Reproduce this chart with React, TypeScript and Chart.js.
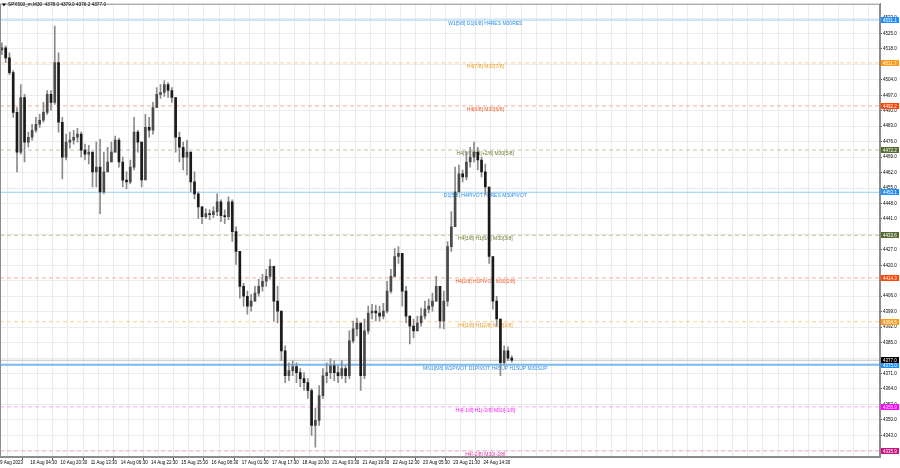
import React, { useEffect, useRef } from "react";
import { Chart, registerables } from "chart.js";
Chart.register(...registerables);

const SYMBOL_TITLE = "SPX500_m,M30  4378.0 4379.0 4376.2 4377.0";

// OHLC values (one candle per 2 hours of M30 data)
const opens = [
  4517.6, 4518.5, 4514.0, 4507.3, 4489.3, 4471.3, 4496.0, 4475.8, 4478.0, 4481.2,
  4483.9, 4485.7, 4489.3, 4497.4, 4493.8, 4511.8, 4484.8, 4469.0, 4475.8, 4476.7,
  4478.0, 4479.4, 4472.2, 4470.4, 4471.3, 4462.3, 4464.5, 4453.3, 4462.3, 4466.8,
  4471.3, 4476.7, 4466.8, 4458.6, 4457.8, 4464.5, 4480.3, 4475.8, 4458.7, 4482.5,
  4481.2, 4491.5, 4497.4, 4498.3, 4501.9, 4499.2, 4496.0, 4478.0, 4473.5, 4469.0,
  4471.3, 4457.8, 4452.4, 4446.5, 4442.0, 4443.4, 4442.9, 4444.3, 4448.8, 4442.5,
  4442.0, 4448.8, 4435.3, 4426.3, 4410.5, 4406.0, 4401.5, 4403.8, 4407.4, 4410.5,
  4412.8, 4415.0, 4419.5, 4403.8, 4399.3, 4381.3, 4370.0, 4372.3, 4374.1, 4371.4,
  4368.7, 4366.9, 4363.3, 4347.5, 4349.8, 4361.0, 4370.0, 4371.4, 4374.5, 4371.4,
  4370.0, 4373.2, 4370.0, 4385.8, 4391.2, 4393.9, 4370.0, 4390.3, 4398.4, 4399.3,
  4398.4, 4397.0, 4399.3, 4408.3, 4415.0, 4424.0, 4425.4, 4408.3, 4397.0, 4392.5,
  4390.3, 4393.9, 4397.0, 4400.2, 4401.5, 4403.8, 4410.5, 4394.8, 4403.8, 4428.5,
  4437.5, 4453.3, 4461.4, 4460.0, 4466.8, 4469.0, 4471.3, 4467.7, 4462.3, 4455.5,
  4424.0, 4403.8, 4395.7, 4375.9, 4381.3, 4378.0,
];
const highs = [
  4520.8, 4519.4, 4516.3, 4508.2, 4491.5, 4501.9, 4497.4, 4480.3, 4483.9, 4487.0,
  4488.4, 4493.8, 4499.2, 4499.2, 4528.4, 4516.3, 4487.0, 4479.4, 4480.3, 4481.2,
  4482.1, 4480.3, 4474.9, 4474.4, 4471.3, 4475.8, 4477.1, 4471.3, 4473.5, 4475.8,
  4478.5, 4477.6, 4469.0, 4462.3, 4467.7, 4487.0, 4481.2, 4475.8, 4488.4, 4487.0,
  4493.8, 4500.5, 4501.9, 4503.7, 4502.8, 4500.5, 4496.0, 4480.3, 4475.8, 4476.7,
  4464.5, 4462.3, 4453.3, 4446.5, 4445.6, 4445.2, 4446.5, 4452.4, 4449.7, 4445.2,
  4451.0, 4449.7, 4437.5, 4426.3, 4411.9, 4408.3, 4406.9, 4410.5, 4413.7, 4415.9,
  4418.2, 4422.7, 4419.5, 4410.5, 4399.3, 4383.5, 4375.9, 4376.8, 4375.9, 4373.2,
  4371.4, 4368.7, 4364.2, 4355.2, 4365.5, 4373.2, 4375.9, 4377.7, 4376.8, 4374.5,
  4376.8, 4374.5, 4390.3, 4394.8, 4396.1, 4393.9, 4395.7, 4401.5, 4402.4, 4402.0,
  4401.5, 4402.8, 4412.8, 4418.2, 4427.6, 4428.5, 4424.0, 4410.5, 4397.0, 4395.7,
  4397.0, 4400.6, 4403.8, 4404.7, 4407.4, 4415.0, 4410.5, 4408.3, 4430.8, 4444.3,
  4464.5, 4465.4, 4463.2, 4471.3, 4473.5, 4475.8, 4473.5, 4469.0, 4465.9, 4455.5,
  4424.0, 4406.0, 4395.7, 4383.5, 4383.1, 4379.0,
];
const lows = [
  4515.4, 4511.8, 4506.4, 4487.0, 4462.3, 4470.4, 4466.8, 4473.5, 4476.7, 4480.3,
  4482.5, 4484.8, 4488.4, 4490.2, 4492.9, 4480.3, 4459.1, 4467.7, 4473.1, 4474.9,
  4475.8, 4469.0, 4467.7, 4465.9, 4455.5, 4455.5, 4443.4, 4452.4, 4462.3, 4466.8,
  4471.3, 4464.5, 4455.5, 4454.6, 4456.9, 4463.2, 4471.3, 4455.5, 4458.7, 4478.0,
  4479.4, 4491.5, 4495.6, 4496.5, 4496.0, 4493.8, 4471.3, 4466.8, 4463.2, 4460.9,
  4453.3, 4450.1, 4441.1, 4438.9, 4441.1, 4440.7, 4441.6, 4442.5, 4439.8, 4438.9,
  4440.7, 4430.8, 4420.4, 4405.1, 4401.5, 4397.9, 4399.3, 4403.8, 4406.0, 4408.3,
  4410.5, 4413.7, 4394.8, 4393.9, 4376.8, 4366.9, 4367.8, 4370.0, 4366.9, 4365.1,
  4363.3, 4359.7, 4343.0, 4337.6, 4347.5, 4359.7, 4366.9, 4368.7, 4367.8, 4366.9,
  4368.7, 4366.9, 4368.7, 4384.9, 4388.0, 4363.3, 4368.7, 4388.9, 4395.7, 4394.8,
  4394.8, 4395.7, 4398.4, 4407.4, 4415.0, 4420.9, 4401.5, 4393.9, 4384.4, 4387.1,
  4390.3, 4392.5, 4395.7, 4398.4, 4399.3, 4403.8, 4391.6, 4391.2, 4401.5, 4426.3,
  4437.5, 4457.8, 4457.8, 4458.7, 4464.5, 4466.8, 4463.2, 4460.0, 4452.4, 4420.9,
  4400.2, 4392.5, 4370.0, 4374.9, 4376.8, 4376.2,
];
const closes = [
  4518.5, 4514.0, 4507.3, 4489.3, 4471.3, 4496.0, 4475.8, 4478.0, 4481.2, 4483.9,
  4485.7, 4489.3, 4497.4, 4493.8, 4511.8, 4484.8, 4469.0, 4475.8, 4476.7, 4478.0,
  4479.4, 4472.2, 4470.4, 4471.3, 4462.3, 4464.5, 4453.3, 4462.3, 4466.8, 4471.3,
  4476.7, 4466.8, 4458.6, 4457.8, 4464.5, 4480.3, 4475.8, 4458.7, 4482.5, 4481.2,
  4491.5, 4497.4, 4498.3, 4501.9, 4499.2, 4496.0, 4478.0, 4473.5, 4469.0, 4471.3,
  4457.8, 4452.4, 4446.5, 4442.0, 4443.4, 4442.9, 4444.3, 4448.8, 4442.5, 4442.0,
  4448.8, 4435.3, 4426.3, 4410.5, 4406.0, 4401.5, 4403.8, 4407.4, 4410.5, 4412.8,
  4415.0, 4419.5, 4403.8, 4399.3, 4381.3, 4370.0, 4372.3, 4374.1, 4371.4, 4368.7,
  4366.9, 4363.3, 4347.5, 4349.8, 4361.0, 4370.0, 4371.4, 4374.5, 4371.4, 4370.0,
  4373.2, 4370.0, 4385.8, 4391.2, 4393.9, 4370.0, 4390.3, 4398.4, 4399.3, 4398.4,
  4397.0, 4399.3, 4408.3, 4415.0, 4424.0, 4425.4, 4408.3, 4397.0, 4392.5, 4390.3,
  4393.9, 4397.0, 4400.2, 4401.5, 4403.8, 4410.5, 4394.8, 4403.8, 4428.5, 4437.5,
  4453.3, 4461.4, 4460.0, 4466.8, 4469.0, 4471.3, 4467.7, 4462.3, 4455.5, 4424.0,
  4403.8, 4395.7, 4375.9, 4381.3, 4378.0, 4377.0,
];

// Time axis (bar index of each date label)
const dateTickBars = [-0.5, 7.5, 15.5, 23.5, 31.5, 39.5, 47.5, 55.5, 63.5, 71.5, 79.5, 87.5, 95.5, 103.5, 111.5, 119.5, 127.5];
const dateTickLabels = [
  "9 Aug 2023", "10 Aug 04:30", "10 Aug 20:30", "11 Aug 13:30", "14 Aug 06:30", "14 Aug 22:30",
  "15 Aug 15:30", "16 Aug 08:30", "17 Aug 01:30", "17 Aug 17:30", "18 Aug 10:30", "21 Aug 03:30",
  "21 Aug 19:30", "22 Aug 12:30", "23 Aug 05:30", "23 Aug 21:30", "24 Aug 14:30",
];

// Price axis
const priceTicks = [4532, 4525, 4518, 4511, 4504, 4497, 4490, 4483, 4476, 4469, 4462, 4455, 4448, 4441, 4434, 4427, 4420, 4413, 4406, 4399, 4392, 4385, 4378, 4371, 4364, 4357, 4350, 4343, 4336];
const priceTickLabels = ["4532.0", "4525.0", "4518.0", "", "4504.0", "4497.0", "4490.0", "4483.0", "4476.0", "4469.0", "4462.0", "4455.0", "4448.0", "4441.0", "", "4427.0", "4420.0", "", "4406.0", "4399.0", "4392.0", "4385.0", "", "4371.0", "4364.0", "4357.0", "4350.0", "4343.0", ""];

// Murrey / pivot levels
const levelValues = [4531.1, 4511.7, 4492.2, 4472.2, 4453.1, 4433.6, 4414.3, 4394.5, 4375.0, 4355.9, 4335.9];
const levelLabels = [
  "W1[5/8] D1[6/8] H4RES M30RES",
  "H4[7/8] M30[7/8]",
  "H4[6/8] M30[6/8]",
  "H4[5/8] H1[+2/8] M30[5/8]",
  "D1[5/8] H4PIVOT H1RES M30PIVOT",
  "H4[3/8] H1[6/8] M30[3/8]",
  "H4[2/8] H1PIVOT M30[2/8]",
  "H4[1/8] H1[2/8] M30[1/8]",
  "MN1[6/8] W1PIVOT D1PIVOT H4SUP H1SUP M30SUP",
  "H4[-1/8] H1[-2/8] M30[-1/8]",
  "H4[-2/8] M30[-2/8]",
];
const bidPrice = 4377.0;

// ---- styles ----
const FONT = "'Liberation Sans', Arial, sans-serif";
const X_MIN = -0.5;
const X_MAX = 232.5;
const LABEL_BAR = 128;
const BLUE = { line: "#95cdf6", dash: [], width: 1, text: "#2f8be6", box: "#1e90ff" };
const ORANGE = { line: "#fbcd96", dash: [4, 3], width: 1, text: "#f39a1a", box: "#ff9a1a" };
const RED = { line: "#f7ae9a", dash: [4, 3], width: 1, text: "#f25a28", box: "#ff4500" };
const OLIVE = { line: "#c4c4a8", dash: [4, 3], width: 1, text: "#6b7a2a", box: "#556b2f" };
const LEVEL_STYLE = [
  BLUE, ORANGE, RED, OLIVE, BLUE, OLIVE, RED, ORANGE,
  { line: "#78b9f0", dash: [], width: 2, text: "#2f8be6", box: "#1e90ff" },
  { line: "#f5aaf5", dash: [4, 3], width: 1, text: "#ff1aff", box: "#ff00ff" },
  { line: "#efaed6", dash: [4, 3], width: 1, text: "#e2329f", box: "#c71585" },
];

const overlayPlugin = {
  id: "mt4overlay",
  beforeDatasetsDraw(chart: any) {
    const { ctx, scales } = chart;
    const x = scales.x, y = scales.y;
    ctx.save();
    ctx.font = `5px ${FONT}`;
    ctx.textAlign = "center";
    ctx.textBaseline = "top";
    levelValues.forEach((v, i) => {
      ctx.fillStyle = LEVEL_STYLE[i].text;
      ctx.fillText(levelLabels[i], x.getPixelForValue(LABEL_BAR), y.getPixelForValue(v) + 1);
    });
    ctx.restore();
  },
  afterDraw(chart: any) {
    const { ctx, chartArea: a, scales } = chart;
    const y = scales.y;
    ctx.save();
    ctx.strokeStyle = "#8c8c8c";
    ctx.lineWidth = 1;
    ctx.strokeRect(a.left + 0.5, a.top + 0.5, a.right - a.left - 1, a.bottom - a.top - 1);
    const boxes = levelValues.map((v, i) => ({ v, color: LEVEL_STYLE[i].box }));
    boxes.push({ v: bidPrice, color: "#000000" });
    ctx.font = `4.5px ${FONT}`;
    ctx.textAlign = "left";
    ctx.textBaseline = "middle";
    boxes.forEach((b) => {
      const py = Math.round(y.getPixelForValue(b.v));
      ctx.fillStyle = b.color;
      ctx.fillRect(a.right + 1, py - 3, 18, 6);
      ctx.fillStyle = "#ffffff";
      ctx.fillText(b.v.toFixed(1), a.right + 3, py + 0.3);
    });
    ctx.fillStyle = "#000";
    ctx.beginPath();
    ctx.moveTo(2, 3.5);
    ctx.lineTo(6, 3.5);
    ctx.lineTo(4, 6.5);
    ctx.closePath();
    ctx.fill();
    ctx.font = `4.7px ${FONT}`;
    ctx.textBaseline = "middle";
    ctx.fillText(SYMBOL_TITLE, 8, 5);
    ctx.restore();
  },
};

export default function App() {
  const ref = useRef<HTMLCanvasElement>(null);
  useEffect(() => {
    const gridBars: number[] = [X_MIN];
    for (let v = 3.5; v < X_MAX; v += 4) gridBars.push(v);

    const wickData = closes.map((c, i) => ({
      x: i,
      y: [Math.min(lows[i], opens[i], c), Math.max(highs[i], opens[i], c)],
    }));
    const bodyData = closes.map((c, i) => ({ x: i, y: [opens[i], c] }));
    const bodyColors = closes.map((c, i) => (c >= opens[i] ? "#4a4a4a" : "#1a1a1a"));

    const levelSets = levelValues.map((v, i) => ({
      type: "line" as const,
      data: [{ x: X_MIN, y: v }, { x: X_MAX, y: v }],
      borderColor: LEVEL_STYLE[i].line,
      borderWidth: LEVEL_STYLE[i].width,
      borderDash: LEVEL_STYLE[i].dash,
      pointRadius: 0,
      fill: false,
      order: 3,
    }));

    const chart = new Chart(ref.current as HTMLCanvasElement, {
      type: "bar",
      data: {
        datasets: [
          {
            type: "bar",
            data: wickData as any,
            backgroundColor: "#8a8a8a",
            barThickness: 1,
            grouped: false,
            order: 1,
          } as any,
          {
            type: "bar",
            data: bodyData as any,
            backgroundColor: bodyColors,
            barThickness: 2,
            minBarLength: 1,
            grouped: false,
            order: 0,
          } as any,
          {
            type: "line",
            data: [{ x: X_MIN, y: bidPrice }, { x: X_MAX, y: bidPrice }],
            borderColor: "#c4c4c4",
            borderWidth: 1,
            pointRadius: 0,
            order: 2,
          } as any,
          ...(levelSets as any[]),
        ],
      },
      options: {
        responsive: false,
        animation: false,
        devicePixelRatio: 1,
        events: [],
        layout: { padding: { left: 0, top: 0, right: 0, bottom: 0 } },
        plugins: { legend: { display: false }, tooltip: { enabled: false } },
        scales: {
          x: {
            type: "linear",
            min: X_MIN,
            max: X_MAX,
            offset: false,
            afterBuildTicks: (ax: any) => {
              ax.ticks = gridBars.map((v) => ({ value: v }));
            },
            afterFit: (ax: any) => {
              ax.height = 11;
            },
            ticks: {
              autoSkip: false,
              maxRotation: 0,
              minRotation: 0,
              align: "start",
              padding: 0,
              color: "#000",
              font: { size: 4.5, family: FONT },
              callback: (value: any) => {
                const k = dateTickBars.indexOf(Number(value));
                return k >= 0 ? dateTickLabels[k] : "";
              },
            },
            grid: {
              color: "#ebebeb",
              tickLength: 3,
              tickColor: (ctx: any) =>
                ctx.tick && dateTickBars.indexOf(ctx.tick.value) >= 0 ? "#555" : "rgba(0,0,0,0)",
            },
            border: { display: true, color: "#8c8c8c" },
          } as any,
          y: {
            type: "linear",
            position: "right",
            min: 4333.2,
            max: 4538.5,
            afterBuildTicks: (ax: any) => {
              ax.ticks = priceTicks.map((v) => ({ value: v }));
            },
            afterFit: (ax: any) => {
              ax.width = 20;
            },
            ticks: {
              autoSkip: false,
              padding: 1,
              crossAlign: "near",
              color: "#000",
              font: { size: 4.5, family: FONT },
              callback: (value: any) => {
                const k = priceTicks.indexOf(Number(value));
                return k >= 0 ? priceTickLabels[k] : "";
              },
            },
            grid: { color: "#ebebeb", tickLength: 2, tickColor: "#555" },
            border: { display: true, color: "#8c8c8c" },
          } as any,
        },
      },
      plugins: [overlayPlugin],
    } as any);
    return () => chart.destroy();
  }, []);

  return (
    <div style={{ position: "absolute", left: 0, top: 0, width: 900, height: 468, background: "#fff" }}>
      <canvas ref={ref} width={900} height={468} style={{ display: "block" }} />
    </div>
  );
}
